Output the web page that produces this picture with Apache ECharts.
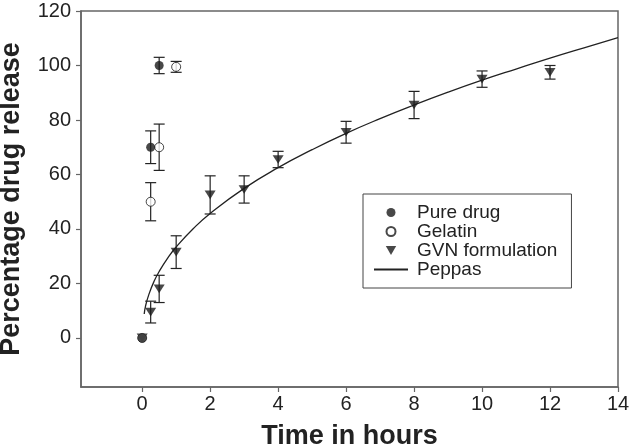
<!DOCTYPE html>
<html>
<head>
<meta charset="utf-8">
<script src="https://cdn.jsdelivr.net/npm/echarts@6/dist/echarts.min.js"></script>
<style>html,body{margin:0;padding:0;background:#fff;}#c{width:630px;height:447px;}</style>
</head>
<body>
<div id="c"></div>
<script>
var xTicks = [0, 2, 4, 6, 8, 10, 12, 14];
var yTicks = [0, 20, 40, 60, 80, 100, 120];

var pureTime = [0, 0.25, 0.5];
var pureVal = [0, 70, 100];
var pureErr = [0, 6, 3];

var gelTime = [0, 0.25, 0.5, 1];
var gelVal = [0, 50, 70, 99.5];
var gelErr = [0, 7, 8.5, 2];

var gvnTime = [0, 0.25, 0.5, 1, 2, 3, 4, 6, 8, 10, 12];
var gvnVal = [0, 9.5, 18, 31.5, 52.5, 54.5, 65.5, 75.5, 85.5, 95, 97.5];
var gvnErr = [0, 4, 5, 6, 7, 5, 3, 4, 5, 3, 2.5];

var peppasTime = [0.06, 0.1, 0.2, 0.35, 0.5, 0.75, 1, 1.5, 2, 3, 4, 5, 6, 7, 8, 9, 10, 11, 12, 13, 14];
var peppasVal = [8.8, 11.8, 16.1, 20.8, 24.4, 29.3, 33.4, 40.1, 45.7, 54.9, 62.5, 69.1, 75.1, 80.5, 85.5, 90.2, 94.6, 98.7, 102.7, 106.5, 110.2];

var FONT = "'Liberation Sans', Arial, sans-serif";
var INK = '#1a1a1a';

function pts(t, v) { return t.map(function (x, i) { return [x, v[i]]; }); }
function errs(t, v, e) {
  var out = [];
  t.forEach(function (x, i) { if (e[i] > 0) out.push([x, v[i] - e[i], v[i] + e[i]]); });
  return out;
}
var errData = errs(pureTime, pureVal, pureErr)
  .concat(errs(gelTime, gelVal, gelErr))
  .concat(errs(gvnTime, gvnVal, gvnErr));

var tri = 'path://M0,0 L12,0 L6,10.4 Z';

var chart = echarts.init(document.getElementById('c'), null, {renderer: 'canvas'});
chart.setOption({
  animation: false,
  backgroundColor: '#fff',
  grid: {left: 81, right: 12, top: 11, bottom: 60, outerBoundsMode: 'none', containLabel: false,
    show: true, borderColor: '#666', borderWidth: 1.5, backgroundColor: 'transparent'},
  xAxis: {
    type: 'value', min: -1.8, max: 14,
    name: 'Time in hours', nameLocation: 'middle', nameGap: 36,
    nameTextStyle: {fontFamily: FONT, fontSize: 27, fontWeight: 'bold', color: '#222'},
    axisLine: {show: true, onZero: false, lineStyle: {color: '#666', width: 1.5}},
    axisTick: {show: true, inside: false, length: 5, customValues: xTicks, lineStyle: {color: '#666', width: 1.2}},
    axisLabel: {customValues: xTicks, margin: 7, fontFamily: FONT, fontSize: 20, color: '#222'},
    splitLine: {show: false}
  },
  yAxis: {
    type: 'value', min: -18, max: 120,
    name: 'Percentage drug release', nameLocation: 'middle', nameGap: 56,
    nameTextStyle: {fontFamily: FONT, fontSize: 27, fontWeight: 'bold', color: '#222'},
    axisLine: {show: true, onZero: false, lineStyle: {color: '#666', width: 1.5}},
    axisTick: {show: true, inside: false, length: 5, customValues: yTicks, lineStyle: {color: '#666', width: 1.2}},
    axisLabel: {customValues: yTicks, margin: 10, fontFamily: FONT, fontSize: 20, color: '#222'},
    splitLine: {show: false}
  },
  legend: {
    orient: 'vertical', left: 363, top: 194,
    padding: [9, 14, 9, 10],
    itemWidth: 34, itemHeight: 9, itemGap: 0,
    borderColor: '#444', borderWidth: 1,
    textStyle: {fontFamily: FONT, fontSize: 19, color: '#222', lineHeight: 19, padding: [0, 0, 0, 4]},
    data: ['Pure drug', 'Gelatin', 'GVN formulation', {name: 'Peppas', itemStyle: {opacity: 0}}]
  },
  series: [
    {
      type: 'custom', name: 'err', data: errData, z: 2,
      encode: {x: 0, y: [1, 2]},
      renderItem: function (params, api) {
        var x = api.value(0), lo = api.value(1), hi = api.value(2);
        var top = api.coord([x, hi]), bot = api.coord([x, lo]);
        var hw = 5.5;
        var st = {stroke: '#222', lineWidth: 1.2};
        return {type: 'group', children: [
          {type: 'line', shape: {x1: top[0], y1: top[1], x2: bot[0], y2: bot[1]}, style: st},
          {type: 'line', shape: {x1: top[0] - hw, y1: top[1], x2: top[0] + hw, y2: top[1]}, style: st},
          {type: 'line', shape: {x1: bot[0] - hw, y1: bot[1], x2: bot[0] + hw, y2: bot[1]}, style: st}
        ]};
      }
    },
    {
      type: 'line', name: 'Peppas', data: pts(peppasTime, peppasVal), smooth: true,
      symbol: 'none', z: 3,
      lineStyle: {color: '#222', width: 1.3}, itemStyle: {color: '#222'}
    },
    {
      type: 'scatter', name: 'GVN formulation', data: pts(gvnTime, gvnVal), z: 4,
      symbol: tri, symbolSize: [11, 10], symbolKeepAspect: true,
      itemStyle: {color: INK}
    },
    {
      type: 'scatter', name: 'Gelatin', data: pts(gelTime, gelVal), z: 5,
      symbol: 'circle', symbolSize: 9,
      itemStyle: {color: '#fff', borderColor: INK, borderWidth: 1}
    },
    {
      type: 'scatter', name: 'Pure drug', data: pts(pureTime, pureVal), z: 6,
      symbol: 'circle', symbolSize: 9,
      itemStyle: {color: INK}
    }
  ]
});
</script>
</body>
</html>
